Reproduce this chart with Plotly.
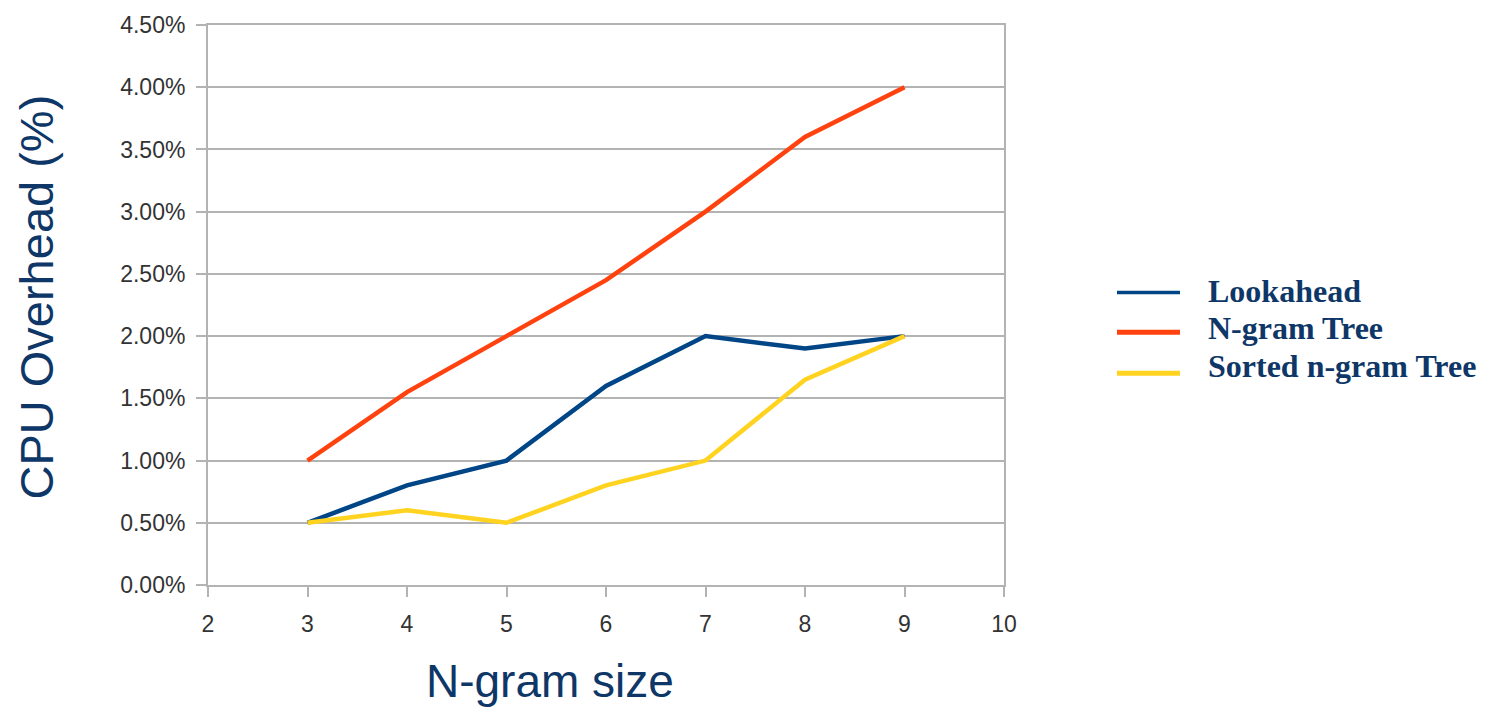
import plotly.graph_objects as go

# N-gram sizes on the x axis
ngram_size = [3, 4, 5, 6, 7, 8, 9]

# CPU overhead (fraction) per variant
lookahead = [0.005, 0.008, 0.010, 0.016, 0.020, 0.019, 0.020]
ngram_tree = [0.010, 0.0155, 0.020, 0.0245, 0.030, 0.036, 0.040]
sorted_ngram_tree = [0.005, 0.006, 0.005, 0.008, 0.010, 0.0165, 0.020]

series_names = ["Lookahead", "N-gram Tree", "Sorted n-gram Tree"]
series_values = [lookahead, ngram_tree, sorted_ngram_tree]
series_colors = ["#004586", "#ff420e", "#ffd320"]

x_ticks = [2, 3, 4, 5, 6, 7, 8, 9, 10]
y_ticks = [0.0, 0.005, 0.010, 0.015, 0.020, 0.025, 0.030, 0.035, 0.040, 0.045]

W, H = 1492, 708
L, R, T, B = 208, 488, 22, 123
plot_w = W - L - R
plot_h = H - T - B


def px_to_paper_x(px):
    return (px - L) / plot_w


def px_to_paper_y(py):
    return (H - B - py) / plot_h


navy = "#0e3768"

fig = go.Figure()
for name, vals, color in zip(series_names, series_values, series_colors):
    fig.add_trace(go.Scatter(
        x=ngram_size, y=vals, mode="lines", name=name,
        line=dict(color=color, width=4.5), showlegend=False,
    ))

fig.update_layout(
    width=W, height=H,
    margin=dict(l=L, r=R, t=T, b=B, pad=0),
    plot_bgcolor="white", paper_bgcolor="white",
    font=dict(family="Liberation Sans, Arial, sans-serif", color="#333333"),
    xaxis=dict(
        range=[2, 10], tickvals=x_ticks, showgrid=False,
        showline=True, linecolor="#b3b3b3", linewidth=2, mirror=True,
        ticks="outside", ticklen=10, tickwidth=2, tickcolor="#b3b3b3",
        tickfont=dict(size=23, color="#333333"), ticklabelstandoff=7,
        zeroline=False,
    ),
    yaxis=dict(
        range=[0, 0.045], tickvals=y_ticks, tickformat=".2%",
        showgrid=True, gridcolor="#b3b3b3", gridwidth=2,
        showline=True, linecolor="#b3b3b3", linewidth=2, mirror=True,
        ticks="outside", ticklen=10, tickwidth=2, tickcolor="#b3b3b3",
        tickfont=dict(size=23, color="#333333"), ticklabelstandoff=6,
        zeroline=False,
    ),
)

# Axis titles
fig.add_annotation(
    text="CPU Overhead (%)", xref="paper", yref="paper",
    x=px_to_paper_x(37), y=px_to_paper_y(296), textangle=-90,
    showarrow=False, xanchor="center", yanchor="middle",
    font=dict(size=47, color=navy, family="Liberation Sans, Arial, sans-serif"),
)
fig.add_annotation(
    text="N-gram size", xref="paper", yref="paper",
    x=px_to_paper_x(550), y=px_to_paper_y(682),
    showarrow=False, xanchor="center", yanchor="middle",
    font=dict(size=46, color=navy, family="Liberation Sans, Arial, sans-serif"),
)

# Legend drawn beside the plot
legend_rows_text = [289, 327, 365]
legend_rows_line = [291, 331, 372]
legend_widths = [3.5, 5, 5]
for name, color, ty, ly, lw in zip(series_names, series_colors,
                                   legend_rows_text, legend_rows_line, legend_widths):
    fig.add_shape(
        type="line", xref="paper", yref="paper",
        x0=px_to_paper_x(1117), x1=px_to_paper_x(1180),
        y0=px_to_paper_y(ly), y1=px_to_paper_y(ly),
        line=dict(color=color, width=lw),
    )
    fig.add_annotation(
        text="<b>" + name + "</b>", xref="paper", yref="paper",
        x=px_to_paper_x(1206), y=px_to_paper_y(ty),
        showarrow=False, xanchor="left", yanchor="middle",
        font=dict(size=32, color=navy, family="Liberation Serif, Times New Roman, serif"),
    )

fig.write_html("out.html")
